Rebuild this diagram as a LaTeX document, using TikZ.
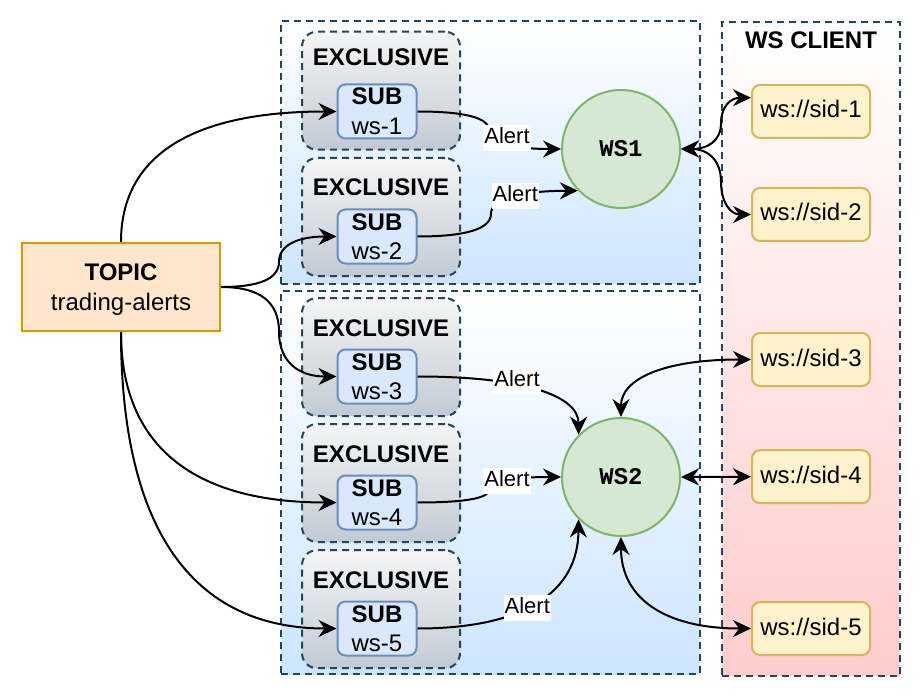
\documentclass[tikz,border=0pt]{standalone}
\usepackage{fontspec}
\setmainfont{Liberation Sans}
\newfontfamily\wsmono{Liberation Mono}
\usetikzlibrary{arrows.meta,calc}
\definecolor{navy}{HTML}{23445D}
\definecolor{subFill}{HTML}{DAE8FC}
\definecolor{subStroke}{HTML}{6C8EBF}
\definecolor{circFill}{HTML}{D5E8D4}
\definecolor{circStroke}{HTML}{82B366}
\definecolor{topFill}{HTML}{FFE6CC}
\definecolor{topStroke}{HTML}{D79B00}
\definecolor{cliFill}{HTML}{FFF2CC}
\definecolor{cliStroke}{HTML}{D6B656}
\definecolor{grpBlue}{HTML}{CCE5FF}
\definecolor{grpPink}{HTML}{FFCCCC}
\definecolor{exTop}{HTML}{F5F5F5}
\definecolor{exBot}{HTML}{C1CAD4}
\tikzset{
  myarrow/.tip={Stealth[length=18pt,width=17pt,inset=6pt]},
  grp/.style={draw=navy, line width=2pt, dash pattern=on 7pt off 5pt, rectangle, inner sep=0pt},
  excl/.style={draw=navy, line width=2pt, dash pattern=on 7pt off 5pt, rounded corners=15pt,
    top color=exTop, bottom color=exBot, minimum width=158pt, minimum height=118pt, inner sep=0pt},
  subbox/.style={draw=subStroke, fill=subFill, line width=2pt, rounded corners=8pt,
    minimum width=79pt, minimum height=54pt, inner sep=0pt},
  topicbox/.style={draw=topStroke, fill=topFill, line width=2pt,
    minimum width=198pt, minimum height=88pt, inner sep=0pt},
  circ/.style={circle, draw=circStroke, fill=circFill, line width=2pt, minimum size=118pt,
    inner sep=0pt, font=\wsmono\bfseries\fontsize{24}{28}\selectfont},
  client/.style={draw=cliStroke, fill=cliFill, line width=2pt, rounded corners=8pt,
    minimum width=118pt, minimum height=53pt, inner sep=0pt},
  txt/.style={font=\fontsize{24}{28}\selectfont, inner sep=0pt, anchor=base},
  btxt/.style={font=\bfseries\fontsize{24}{28}\selectfont, inner sep=0pt, anchor=base},
  lbl/.style={font=\fontsize{22}{26}\selectfont, fill=white, inner xsep=1pt, inner ysep=2.5pt,
    text height=16pt, text depth=5pt, anchor=base},
  edge/.style={draw=black, line width=2pt, -myarrow},
  biedge/.style={draw=black, line width=2pt, myarrow-myarrow},
}
\begin{document}
\begin{tikzpicture}[x=1pt,y=-1pt]
\useasboundingbox (0,0) rectangle (922,698);
\fill[white] (0,0) rectangle (922,698);

% groups
\node[grp, top color=white, bottom color=grpBlue, minimum width=419pt, minimum height=262pt] (g1) at (490.5,152.5) {};
\node[grp, top color=white, bottom color=grpBlue, minimum width=419pt, minimum height=383pt] (g2) at (490.5,482.5) {};
\node[grp, top color=white, bottom color=grpPink, minimum width=178pt, minimum height=654pt] (g3) at (811,348.7) {};
\node[btxt] (g3t) at (811,48.3) {WS CLIENT};

% exclusive boxes
\node[excl] (e1) at (381,90.7) {};
\node[excl] (e2) at (381,217) {};
\node[excl] (e3) at (381,357) {};
\node[excl] (e4) at (381,483) {};
\node[excl] (e5) at (381,609.2) {};
\node[btxt] (e1t) at (381,66) {EXCLUSIVE};
\node[btxt] (e2t) at (381,195.6) {EXCLUSIVE};
\node[btxt] (e3t) at (381,336) {EXCLUSIVE};
\node[btxt] (e4t) at (381,462) {EXCLUSIVE};
\node[btxt] (e5t) at (381,588) {EXCLUSIVE};

% sub boxes
\node[subbox] (s1) at (377,111.5) {};
\node[subbox] (s2) at (377,236.5) {};
\node[subbox] (s3) at (377,376.5) {};
\node[subbox] (s4) at (377,502.5) {};
\node[subbox] (s5) at (377,628.5) {};
\node[btxt] (s1a) at (377,104.5) {SUB};
\node[txt] (s1b) at (377,134.5) {ws-1};
\node[btxt] (s2a) at (377,230) {SUB};
\node[txt] (s2b) at (377,259.5) {ws-2};
\node[btxt] (s3a) at (377,370) {SUB};
\node[txt] (s3b) at (377,399.5) {ws-3};
\node[btxt] (s4a) at (377,496) {SUB};
\node[txt] (s4b) at (377,525.5) {ws-4};
\node[btxt] (s5a) at (377,622) {SUB};
\node[txt] (s5b) at (377,651.5) {ws-5};

% topic
\node[topicbox] (topic) at (121,287) {};
\node[btxt] (topica) at (121,280.7) {TOPIC};
\node[txt] (topicb) at (121,310) {trading-alerts};

% ws servers
\node[circ] (ws1) at (621,149) {WS1};
\node[circ] (ws2) at (621,477) {WS2};

% clients
\node[client] (c1) at (811,111.5) {};
\node[client] (c2) at (811,214.5) {};
\node[client] (c3) at (811,359.5) {};
\node[client] (c4) at (811,476.7) {};
\node[client] (c5) at (811,628.5) {};
\node[txt] (c1t) at (811,118) {ws://sid-1};
\node[txt] (c2t) at (811,221) {ws://sid-2};
\node[txt] (c3t) at (811,366) {ws://sid-3};
\node[txt] (c4t) at (811,483.3) {ws://sid-4};
\node[txt] (c5t) at (811,635) {ws://sid-5};

% topic -> subs
\draw[edge] (topic.north) .. controls (121,155) and (193,111.5) .. (s1.west);
\draw[edge] (topic.east) .. controls (260,287) and (279,278.6) .. (279,261.75)
  .. controls (279,244.9) and (298.3,236.5) .. (s2.west);
\draw[edge] (topic.east) .. controls (260,287) and (279,301.9) .. (279,331.75)
  .. controls (279,361.6) and (298.3,376.5) .. (s3.west);
\draw[edge] (topic.south) .. controls (121,445.7) and (193,502.5) .. (s4.west);
\draw[edge] (topic.south) .. controls (121,529.7) and (193,628.5) .. (s5.west);

% subs -> ws
\draw[edge] (s1.east) .. controls (465,111.5) and (489,117.75) .. (489,130.25)
  .. controls (489,142.75) and (513,149) .. (ws1.west);
\draw[edge] (s2.east) .. controls (466,236.5) and (491,228.9) .. (491,213.75)
  .. controls (491,198.6) and (520,191) .. (ws1.-136);
\draw[edge] (s3.east) .. controls (524.7,376.5) and (578.6,395.9) .. (ws2.135);
\draw[edge] (s4.east) .. controls (465,502.5) and (489,498.25) .. (489,489.75)
  .. controls (489,481.25) and (513,477) .. (ws2.west);
\draw[edge] (s5.east) .. controls (524.7,628.5) and (578,592) .. (ws2.-135);

% ws <-> clients
\draw[biedge] (ws1.east) .. controls (708,149) and (721,140.5) .. (721,123.4)
  .. controls (721,106.3) and (731,97.75) .. ($(c1.west)!0.5!(c1.north west)$);
\draw[biedge] (ws1.east) .. controls (708,149) and (721,160.2) .. (721,181.75)
  .. controls (721,203.3) and (731,214.5) .. (c2.west);
\draw[biedge] (ws2.north) .. controls (621,378.7) and (664.3,359.5) .. (c3.west);
\draw[biedge] (ws2.east) -- (c4.west);
\draw[biedge] (ws2.south) .. controls (621,598) and (664.3,628.5) .. (c5.west);

% labels
\node[lbl] (a1) at (507,144) {Alert};
\node[lbl] (a2) at (515.3,201.7) {Alert};
\node[lbl] (a3) at (517,386) {Alert};
\node[lbl] (a4) at (507,486) {Alert};
\node[lbl] (a5) at (527.3,613.3) {Alert};
\end{tikzpicture}
\end{document}
